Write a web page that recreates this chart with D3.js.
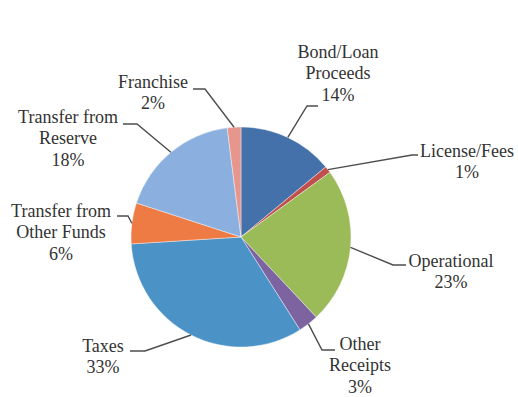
<!DOCTYPE html>
<html>
<head>
<meta charset="utf-8">
<script src="https://cdn.jsdelivr.net/npm/d3@7"></script>
<style>
  html, body { margin: 0; padding: 0; background: #ffffff; }
  svg { display: block; }
  svg text { font-family: "Liberation Serif", "Times New Roman", Tinos, serif !important; }
</style>
</head>
<body>
<svg id="chart" width="518" height="397" font-family="Liberation Serif"></svg>
<script>
// Revenue sources, clockwise from 12 o'clock
const categories = [
  "Bond/Loan Proceeds",
  "License/Fees",
  "Operational",
  "Other Receipts",
  "Taxes",
  "Transfer from Other Funds",
  "Transfer from Reserve",
  "Franchise"
];
const shares = [14, 1, 23, 3, 33, 6, 18, 2];
const labelLines = [
  ["Bond/Loan", "Proceeds"],
  ["License/Fees"],
  ["Operational"],
  ["Other", "Receipts"],
  ["Taxes"],
  ["Transfer from", "Other Funds"],
  ["Transfer from", "Reserve"],
  ["Franchise"]
];
const colors = ["#4571AB", "#C0504D", "#9BBB59", "#7D64A0", "#4B93C6", "#EE7A44", "#8BB0DF", "#E6968C"];

// Callout placement relative to the pie centre:
// elbow = bend of the leader, end = x where the leader stops, text = centre x / first baseline
const callouts = [
  { elbow: [66, -131], end: 77,  text: [97, -179] },
  { elbow: [171, -82], end: 177, text: [226, -80] },
  { elbow: [152, 28],  end: 165, text: [210, 30] },
  { elbow: [81, 113],  end: 94,  text: [119, 113] },
  { elbow: [-96, 114], end: -111, text: [-138, 115] },
  { elbow: [-113, -21], end: -124, text: [-180, -20] },
  { elbow: [-104, -113], end: -118, text: [-173, -114] },
  { elbow: [-36, -148], end: -48, text: [-88, -149] }
];

const cx = 241, cy = 237, radius = 110, lineH = 21.3;

const svg = d3.select("#chart");
const g = svg.append("g").attr("transform", `translate(${cx},${cy})`);

const pie = d3.pie().sort(null).value(d => d.value);
const arcs = pie(categories.map((c, i) => ({ name: c, value: shares[i], i })));
const arc = d3.arc().innerRadius(0).outerRadius(radius);

g.selectAll("path.slice")
  .data(arcs)
  .join("path")
  .attr("class", "slice")
  .attr("d", arc)
  .attr("fill", d => colors[d.data.i])
  .attr("stroke", "#ffffff")
  .attr("stroke-width", 0.4);

// leader lines from the rim at each slice's mid-angle
g.selectAll("path.leader")
  .data(arcs)
  .join("path")
  .attr("class", "leader")
  .attr("fill", "none")
  .attr("stroke", "#4d4d4d")
  .attr("stroke-width", 1.4)
  .attr("d", d => {
    const a = (d.startAngle + d.endAngle) / 2;
    const p0 = [radius * Math.sin(a), -radius * Math.cos(a)];
    const c = callouts[d.data.i];
    return d3.line()([p0, c.elbow, [c.end, c.elbow[1]]]);
  });

// one text element per label line: name lines, then the percentage
const labelRows = arcs.flatMap(d => {
  const c = callouts[d.data.i];
  const lines = labelLines[d.data.i].concat([d3.format(".0f")(d.data.value) + "%"]);
  return lines.map((t, k) => ({ t, x: cx + c.text[0], y: cy + c.text[1] + k * lineH }));
});

svg.selectAll("text")
  .data(labelRows)
  .join("text")
  .attr("x", d => d.x)
  .attr("y", d => d.y)
  .attr("font-family", "Liberation Serif")
  .attr("font-size", 18)
  .attr("fill", "#333333")
  .attr("text-anchor", "middle")
  .text(d => d.t);
</script>
</body>
</html>
